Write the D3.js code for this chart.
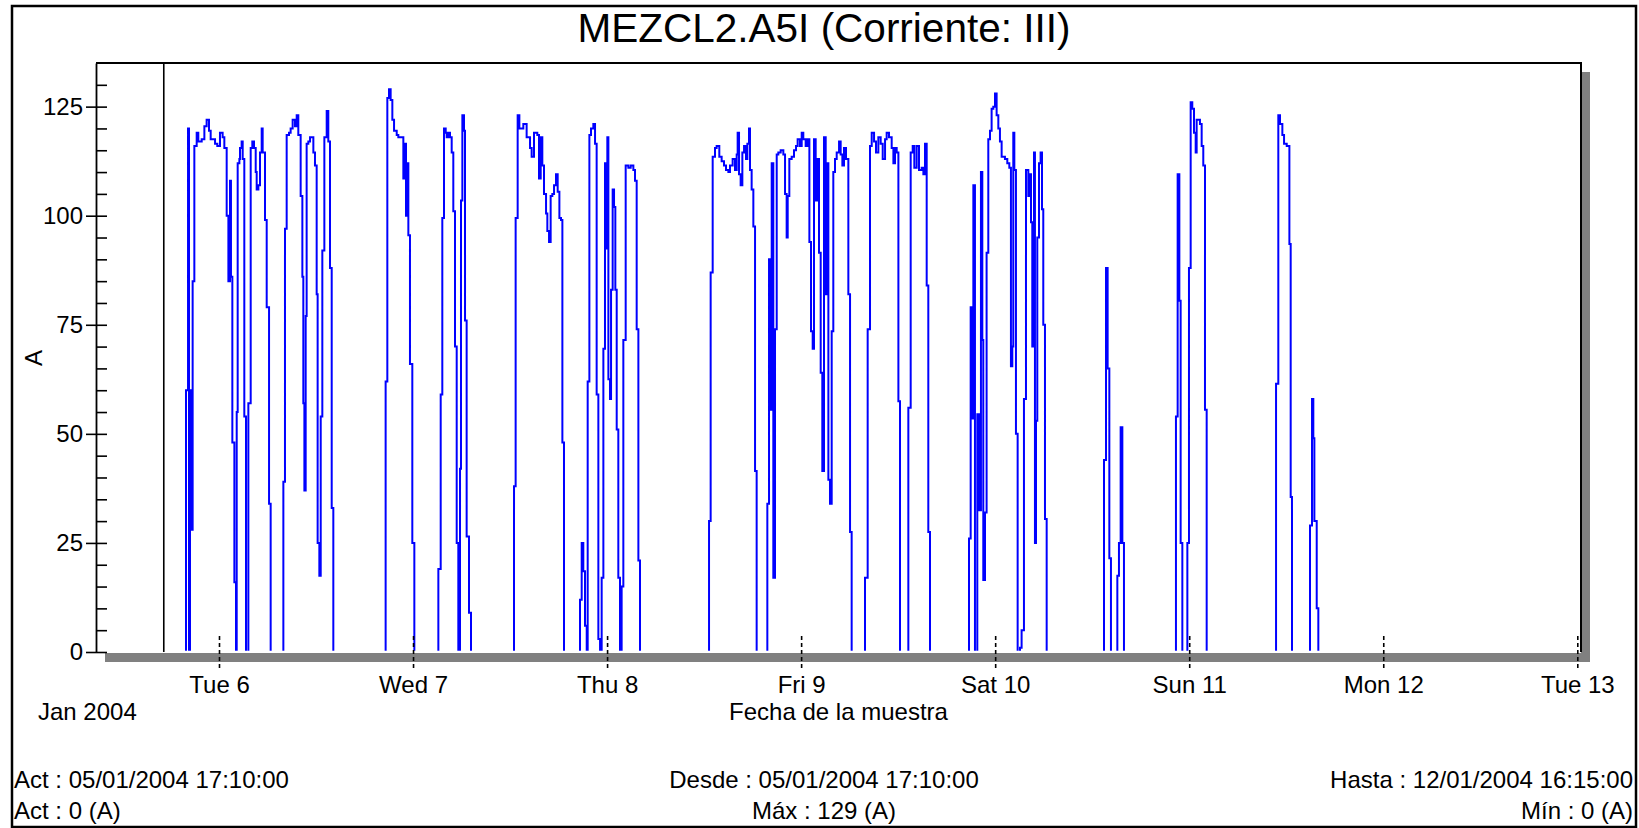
<!DOCTYPE html>
<html>
<head>
<meta charset="utf-8">
<script src="https://cdn.jsdelivr.net/npm/d3@7"></script>
<style>
html,body{margin:0;padding:0;background:#fff;overflow:hidden}
text{font-family:"Liberation Sans",Arial,sans-serif;fill:#000}
</style>
</head>
<body>
<svg id="chart" width="1639" height="828"></svg>
<script>
// ---------------- data ----------------
const chartTitle = "MEZCL2.A5I (Corriente: III)";
const yAxisLabel = "A";
const xAxisLabel = "Fecha de la muestra";
const yearLabel = "Jan 2004";
const dayTickDates = ["2004-01-06","2004-01-07","2004-01-08","2004-01-09","2004-01-10","2004-01-11","2004-01-12","2004-01-13"];
const dayTickLabels = ["Tue 6","Wed 7","Thu 8","Fri 9","Sat 10","Sun 11","Mon 12","Tue 13"];
const yMajorTicks = [0,25,50,75,100,125];
const yMinorTicks = [0,5,10,15,20,25,30,35,40,45,50,55,60,65,70,75,80,85,90,95,100,105,110,115,120,125,130];
const footerLeft = ["Act : 05/01/2004 17:10:00","Act : 0 (A)"];
const footerCenter = ["Desde : 05/01/2004 17:10:00","Máx : 129 (A)"];
const footerRight = ["Hasta : 12/01/2004 16:15:00","Mín : 0 (A)"];
// sample times: hours since 05/01/2004 00:00
const startMarkerHour = 17.17;
const sampleHours = [
17.17,
19.92,20.17,20.29,20.41,20.62,20.74,20.95,21.24,21.44,21.86,22.19,22.47,22.76,22.97,23.51,23.79,24.12,24.45,24.66,24.95,25.16,25.36,25.48,25.65,25.90,26.10,
26.19,26.31,26.52,26.60,26.80,26.93,27.13,27.34,27.63,27.92,28.12,28.33,28.54,28.66,28.87,29.07,29.28,29.40,29.69,29.90,30.19,30.39,
31.96,32.16,32.37,32.66,32.86,33.11,33.40,33.61,33.81,34.10,34.31,34.43,34.56,34.72,34.84,35.05,35.26,35.46,35.67,35.87,36.08,36.20,36.41,36.58,36.78,37.03,37.32,37.52,37.73,37.94,38.14,
44.61,44.82,45.03,45.23,45.44,45.65,45.98,46.18,46.59,46.80,47.01,47.13,47.21,47.42,47.62,47.91,48.16,
51.13,51.42,51.62,51.83,52.04,52.16,52.37,52.57,52.78,52.98,53.19,53.40,53.60,53.81,53.93,54.10,54.30,54.43,54.63,54.92,55.17,
60.49,60.69,60.94,61.15,61.64,62.05,62.47,62.67,62.96,63.37,63.58,63.79,63.99,64.20,64.45,64.61,64.82,65.02,65.23,65.44,65.68,65.89,66.10,66.30,66.47,66.67,
68.65,68.86,69.06,69.27,69.48,69.60,69.81,70.01,70.30,70.51,70.71,70.92,71.13,71.33,71.54,71.74,71.87,72.03,72.16,72.36,72.49,72.69,72.86,73.02,73.19,73.39,73.60,
73.80,74.01,74.30,74.63,74.92,75.25,75.45,75.66,75.87,76.07,
84.61,84.81,85.06,85.35,85.55,85.88,86.17,86.46,86.71,87.00,87.20,87.53,87.82,88.03,88.15,88.32,88.52,88.73,88.94,89.18,89.35,89.55,89.68,89.88,90.09,90.30,90.50,
91.82,92.03,92.23,92.36,92.56,92.77,92.98,93.18,93.47,93.80,94.01,94.21,94.34,94.54,94.83,95.12,95.37,95.57,95.86,96.07,96.27,96.56,96.77,97.02,97.22,97.43,97.59,97.80,98.01,98.21,98.42,98.62,98.83,99.04,99.16,99.37,99.57,99.78,99.98,100.19,100.40,100.69,100.89,101.10,101.30,101.55,101.84,102.05,102.25,
103.90,104.23,104.52,104.73,105.02,105.26,105.55,105.84,106.09,106.38,106.58,106.87,107.20,107.41,107.61,107.82,108.03,108.23,
109.26,109.55,109.80,110.00,110.29,110.58,110.91,111.12,111.32,111.53,111.73,111.94,
116.76,116.97,117.17,117.30,117.50,117.79,118.04,118.24,118.41,118.53,118.74,118.94,119.15,119.36,119.56,119.77,119.98,120.18,120.39,120.59,120.80,121.21,121.50,121.75,121.95,122.12,122.24,122.37,122.57,122.78,
123.07,123.27,123.56,123.81,124.10,124.30,124.43,124.59,124.80,124.92,125.05,125.21,125.42,125.62,125.79,125.95,126.16,126.37,
133.46,133.71,133.91,134.12,134.32,135.11,135.31,135.52,135.73,135.93,
142.36,142.57,142.78,142.94,143.15,143.77,143.97,144.18,144.38,144.59,144.80,144.92,145.13,145.33,145.54,145.74,145.95,146.16,
154.74,155.02,155.23,155.52,155.73,156.06,156.39,156.55,156.71,
158.94,159.19,159.35,159.48,159.77,159.97,
184.25];
const sampleAmps = [
0,
60,120,0,60,28,85,116,119,117,117.5,120.5,122,119.5,117.5,116.5,116,119,118,115.5,100,85,108,86,48,16,0,
55,112,113,115.5,117,113,54,0,57,115.5,117,115.5,110,106,107,114.5,120,114.5,99,79,34,0,
39,97,118.5,119,120,122,120.5,123,118.5,104.5,86,57,37,77,116.5,117,118,118,114.5,111.5,82,25,17.5,54,92,118,124,117,88,33,0,
62,127,129,126.5,122,119.5,118.5,118,118,108.5,116.5,100,112,95.5,66,25,0,
19,59,99.5,120,119,118,119,118,114.5,101,70,25,0,42,103.5,123,119.5,76,26.5,9,0,
38,99.5,123,120,121,118,115.5,113.5,119,118.5,108.5,118,111.5,105,100.5,96.5,94,104.5,105,107,109.5,105.5,99.5,99,48,0,
12,25,18.5,6,0,62,118.5,120,121,116.5,59,3,0,17,69.5,112,92.5,118,62.5,58,83,106,102,83,51,17,0,
15,71.5,111.5,111,111.5,110.5,108,74,21,0,
30,87,113.5,115.5,116,113.5,112.5,111.5,110.5,110,111.5,113,110.5,114,119,109.5,107,114.5,116,113,116.5,120,110.5,106,97.5,41.5,0,
34,90,55.5,112,17,74,114,114.5,115,114,105,95,104.5,113,113.5,115,116,117.5,116,119,117.5,116,117.5,94,73.5,69.5,117.5,103.5,113,91.5,64,41.5,118,82,112,39.5,34,73.5,110,113,114.5,117,114,111.5,115.5,113,82,27.5,0,
17,74,116,119,117,114.5,118,116.5,113,117.5,119,118,115.5,112,115.5,114.5,57.5,0,
56,114.5,116,111,116,110.5,111,109.5,116.5,84,27.5,0,
26,79,53.5,107,0,54.5,32.5,110,71.5,16.5,32,91.5,117.5,119.5,124.5,125,128,123,120,117,113.5,113,112,111,65.5,70,119,110.5,50,0,
1,5,58,110.5,104.5,109.5,98.5,70,114.5,25,53,95,112,114.5,101.5,75,30.5,0,
44,88,65,21.5,0,17.5,25,51.5,25,0,
54,109.5,80.5,25,0,25,88,126,124.5,119,114.5,122,122,121,116,111.5,55.5,0,
61.5,123,121,118.5,116.5,116,93.5,35.5,0,
29,58,49,30,10,0,
0];

// ---------------- layout ----------------
const frame = {left: 96, top: 63, right: 1581, bottom: 653};
const shadowOffset = 9;
const baseDate = new Date(2004, 0, 5, 0, 0, 0);
const toDate = h => new Date(baseDate.getTime() + h * 3600e3);
const parseDay = d3.timeParse("%Y-%m-%d");
const tickDates = dayTickDates.map(parseDay);

const x = d3.scaleTime()
  .domain([tickDates[0], tickDates[tickDates.length - 1]])
  .range([219, 1577.3]);
const y = d3.scaleLinear().domain([0, 135]).range([652, 63]);

const svg = d3.select("#chart");

// outer border
svg.append("rect").attr("x", 12).attr("y", 6).attr("width", 1624).attr("height", 821)
  .attr("fill", "#fff").attr("stroke", "#000").attr("stroke-width", 2.5);

// title
svg.append("text").attr("x", 824).attr("y", 42).attr("text-anchor", "middle")
  .style("font-size", "40.5px").text(chartTitle);

// shadow + plot background
svg.append("rect")
  .attr("x", frame.left + shadowOffset).attr("y", frame.top + shadowOffset)
  .attr("width", frame.right - frame.left).attr("height", frame.bottom - frame.top)
  .attr("fill", "#808080");
svg.append("rect")
  .attr("x", frame.left).attr("y", frame.top)
  .attr("width", frame.right - frame.left).attr("height", frame.bottom - frame.top)
  .attr("fill", "#fff");

// clip for data (hides the zero baseline like the original)
svg.append("clipPath").attr("id", "plotClip").append("rect")
  .attr("x", frame.left).attr("y", frame.top)
  .attr("width", frame.right - frame.left).attr("height", y(0) - 1.3 - frame.top);

const samples = sampleHours.map((h, i) => ({t: toDate(h), v: sampleAmps[i]}));
const line = d3.line().x(d => x(d.t)).y(d => y(d.v)).curve(d3.curveStepAfter);
svg.append("path").datum(samples)
  .attr("clip-path", "url(#plotClip)")
  .attr("d", line).attr("fill", "none").attr("stroke", "#0000ff").attr("stroke-width", 2);

// start marker (Desde)
svg.append("line")
  .attr("x1", x(toDate(startMarkerHour))).attr("x2", x(toDate(startMarkerHour)))
  .attr("y1", frame.top).attr("y2", y(0))
  .attr("stroke", "#000").attr("stroke-width", 1.6);

// frame top and right
svg.append("path")
  .attr("d", `M${frame.left},${frame.top}H${frame.right}V${y(0)}`)
  .attr("fill", "none").attr("stroke", "#000").attr("stroke-width", 2);

// y axis: major ticks with labels (left side)
const yAxisG = svg.append("g").attr("transform", `translate(${frame.left},0)`)
  .call(d3.axisLeft(y).tickValues(yMajorTicks).tickSize(10).tickSizeOuter(0).tickPadding(3));
yAxisG.select(".domain").attr("stroke", "#000").attr("stroke-width", 1.8);
yAxisG.selectAll(".tick line").attr("stroke", "#000").attr("stroke-width", 1.6);
yAxisG.selectAll(".tick text").style("font-size", "24px").style("font-family", "'Liberation Sans',Arial,sans-serif").attr("fill", "#000");

// y axis: minor ticks (right side)
const yMinorG = svg.append("g").attr("transform", `translate(${frame.left},0)`)
  .call(d3.axisRight(y).tickValues(yMinorTicks).tickSize(11).tickSizeOuter(0).tickFormat(""));
yMinorG.select(".domain").remove();
yMinorG.selectAll(".tick line").attr("stroke", "#000").attr("stroke-width", 1.6);

// y axis label
svg.append("text").attr("transform", "translate(34,358) rotate(-90)")
  .attr("text-anchor", "middle").attr("dy", "0.35em")
  .style("font-size", "24px").text(yAxisLabel);

// x axis: dashed day ticks + labels
const xAxisG = svg.append("g").attr("transform", "translate(0,636)")
  .call(d3.axisBottom(x).tickValues(tickDates).tickSize(32).tickPadding(8)
    .tickFormat((d, i) => dayTickLabels[i]));
xAxisG.select(".domain").remove();
xAxisG.selectAll(".tick line").attr("stroke", "#000").attr("stroke-width", 1.6)
  .attr("stroke-dasharray", "4,3");
xAxisG.selectAll(".tick text").style("font-size", "24px").style("font-family", "'Liberation Sans',Arial,sans-serif").attr("fill", "#000");

// year label and x axis title
svg.append("text").attr("x", 38).attr("y", 720).style("font-size", "24px").text(yearLabel);
svg.append("text").attr("x", (frame.left + frame.right) / 2).attr("y", 720)
  .attr("text-anchor", "middle").style("font-size", "24px").text(xAxisLabel);

// footer
const footerY = [788, 819];
footerLeft.forEach((t, i) => svg.append("text").attr("x", 14).attr("y", footerY[i])
  .style("font-size", "24px").text(t));
footerCenter.forEach((t, i) => svg.append("text").attr("x", 824).attr("y", footerY[i])
  .attr("text-anchor", "middle").style("font-size", "24px").text(t));
footerRight.forEach((t, i) => svg.append("text").attr("x", 1633).attr("y", footerY[i])
  .attr("text-anchor", "end").style("font-size", "24px").text(t));
</script>
</body>
</html>
